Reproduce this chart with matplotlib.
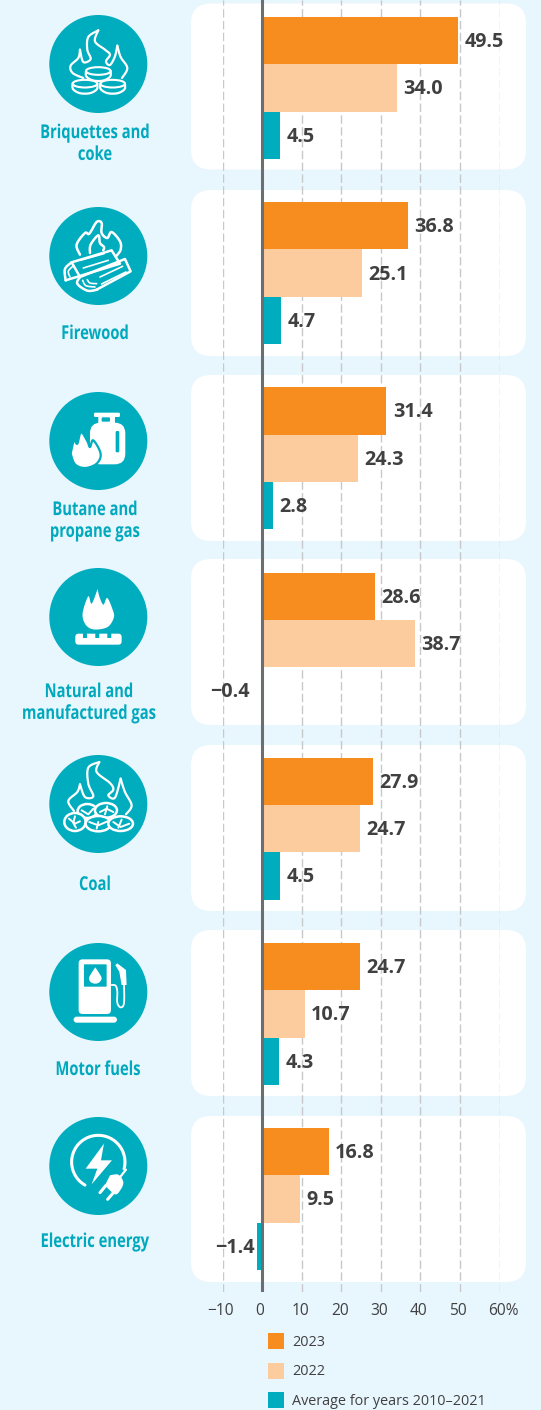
import numpy as np
import matplotlib
matplotlib.use("Agg")
import matplotlib.pyplot as plt
import matplotlib.patheffects as pe
from matplotlib.patches import Circle, Ellipse, FancyBboxPatch, Patch, Polygon
from matplotlib.transforms import Affine2D, ScaledTranslation

categories = ["Briquettes and\ncoke", "Firewood", "Butane and\npropane gas", "Natural and\nmanufactured gas",
              "Coal", "Motor fuels", "Electric energy"]
v2023 = [49.5, 36.8, 31.4, 28.6, 27.9, 24.7, 16.8]
v2022 = [34.0, 25.1, 24.3, 38.7, 24.7, 10.7, 9.5]
vavg = [4.5, 4.7, 2.8, -0.4, 4.5, 4.3, -1.4]
ticks = [-10, 0, 10, 20, 30, 40, 50, 60]
tick_labels = ["\u221210", "0", "10", "20", "30", "40", "50", "60%"]
series_names = ["2023", "2022", "Average for years 2010\u20132021"]

ORANGE = "#F78D1E"
PEACH = "#FCCB9E"
TEAL = "#00ADBF"
BG = "#E8F6FD"
DARK = "#404041"
W, H = 541, 1410
SANS = ["Open Sans", "DejaVu Sans"]

fig = plt.figure(figsize=(W / 100, H / 100), dpi=100, facecolor=BG)

# background layer works in pixels
bg = fig.add_axes([0, 0, 1, 1])
bg.set_xlim(0, W)
bg.set_ylim(H, 0)
bg.axis("off")

panel_tops = [3.5, 190, 375, 559, 745, 930, 1116]
icon_y = [64, 256, 441, 617, 804, 992, 1166]
label_x = [95, 95, 95, 89, 95, 98, 95]
label_y = [144, 334, 521, 703, 885, 1070, 1242]

for t in panel_tops:
    bg.add_patch(FancyBboxPatch((191 + 20, t + 20), 335 - 40, 166 - 40, boxstyle="round,pad=20,rounding_size=20",
                                fc="white", ec="none"))


class Condense(pe.AbstractPathEffect):
    # squeeze text sideways, there is no condensed bold font here
    def __init__(self, cx, k):
        super().__init__()
        self.cx = cx
        self.k = k

    def draw_path(self, renderer, gc, tpath, affine, rgbFace=None):
        squeeze = Affine2D().translate(-self.cx, 0).scale(self.k, 1).translate(self.cx, 0)
        renderer.draw_path(gc, tpath, affine + squeeze, rgbFace)


def smooth(pts, n=10):
    # catmull-rom through the points
    p = np.array(pts, dtype=float)
    p = np.vstack([p[0], p, p[-1]])
    out = []
    for i in range(1, len(p) - 2):
        for t in np.linspace(0, 1, n, endpoint=False):
            a = 2 * p[i] + (p[i + 1] - p[i - 1]) * t
            b = (2 * p[i - 1] - 5 * p[i] + 4 * p[i + 1] - p[i + 2]) * t ** 2
            c = (3 * p[i] - p[i - 1] - 3 * p[i + 1] + p[i + 2]) * t ** 3
            out.append(0.5 * (a + b + c))
    out.append(p[-2])
    return np.array(out)


class Icon:
    # coords come from the 3x zoom, cx/cy is the circle centre there
    def __init__(self, i, cx, cy):
        self.o = np.array([98.3, icon_y[i]])
        self.c = np.array([cx, cy])
        bg.add_patch(Circle(self.o, 49, fc=TEAL, ec="none"))

    def xy(self, pts):
        return (np.array(pts, dtype=float) - self.c) / 3 + self.o

    def line(self, pts, lw=1.6, curve=True, color="white"):
        q = self.xy(smooth(pts) if curve else pts)
        bg.plot(q[:, 0], q[:, 1], color=color, lw=lw, solid_capstyle="round", solid_joinstyle="round")

    def fill(self, pts, color="white", curve=False, ec="none", lw=0):
        q = self.xy(smooth(pts) if curve else pts)
        bg.add_patch(Polygon(q, closed=True, fc=color, ec=ec, lw=lw))

    def box(self, x0, y0, x1, y1, r=6, color="white"):
        a = self.xy([(x0, y0), (x1, y1)])
        w, h = a[1] - a[0]
        r = min(r / 3, w / 2, h / 2)
        bg.add_patch(FancyBboxPatch((a[0][0] + r, a[0][1] + r), w - 2 * r, h - 2 * r,
                                    boxstyle=f"round,pad={r},rounding_size={r}", fc=color, ec="none"))

    def ell(self, x, y, w, h, fc=TEAL, ec="white", lw=1.5):
        bg.add_patch(Ellipse(self.xy([(x, y)])[0], w / 3, h / 3, fc=fc, ec=ec, lw=lw))


def coin(ic, x, y):
    ic.fill([(x - 38, y), (x - 38, y + 20), (x - 18, y + 31), (x + 18, y + 31), (x + 38, y + 20), (x + 38, y)], color=TEAL)
    ic.line([(x - 37, y), (x - 36, y + 16), (x - 20, y + 27), (x, y + 30), (x + 20, y + 27), (x + 36, y + 16), (x + 37, y)])
    ic.ell(x, y, 74, 23)


# briquettes
ic = Icon(0, 295, 193)
ic.line([(295, 92), (265, 112), (262, 150), (272, 178), (250, 187), (240, 150)])
ic.line([(240, 150), (235, 175), (212, 198), (218, 220), (250, 235)])
ic.line([(295, 92), (285, 125), (315, 150), (330, 165), (318, 185), (330, 196), (345, 170), (352, 138)])
ic.line([(352, 138), (362, 172), (382, 205), (366, 235)])
coin(ic, 295, 214)
coin(ic, 255, 252)
coin(ic, 338, 252)

# firewood
ic = Icon(1, 295, 199)
ic.line([(240, 195), (230, 165), (255, 130), (268, 132), (290, 97), (305, 100), (305, 130), (322, 145), (335, 127),
         (360, 155), (362, 180), (350, 198)], lw=1.8)
ic.line([(270, 190), (272, 165), (295, 137), (300, 160), (312, 172), (310, 182)], lw=1.8)
# back log
ic.fill([(240, 262), (375, 208), (392, 245), (262, 305), (232, 285)], color=TEAL)
ic.line([(240, 262), (375, 208), (392, 245), (290, 300)], lw=1.8, curve=False)
ic.line([(240, 262), (232, 282), (262, 303), (292, 300)], lw=1.8)
ic.line([(248, 272), (258, 288), (285, 292)], lw=1.2)
ic.line([(262, 270), (270, 280), (290, 282)], lw=1.2)
ic.line([(300, 262), (368, 230)], lw=1.2, curve=False)
ic.line([(305, 283), (378, 247)], lw=1.2, curve=False)
# front log
ic.fill([(197, 272), (360, 222), (335, 182), (215, 218), (193, 243)], color=TEAL)
ic.line([(197, 272), (360, 222), (335, 182), (215, 218)], lw=1.8, curve=False)
ic.line([(215, 218), (195, 238), (197, 272)], lw=1.8)
ic.line([(215, 218), (238, 258)], lw=1.8, curve=False)
ic.line([(240, 212), (312, 192)], lw=1.2, curve=False)
ic.line([(250, 235), (325, 212)], lw=1.2, curve=False)
ic.line([(210, 262), (205, 245), (218, 230)], lw=1.2)

# butane
ic = Icon(2, 295, 752)
ic.box(282, 667, 360, 680, r=4)
ic.box(295, 675, 345, 705, r=2)
ic.box(270, 697, 376, 822, r=32)
ic.box(305, 681, 330, 694, r=3, color=TEAL)
ic.box(347, 722, 358, 786, r=4, color=TEAL)
ic.fill([(212, 790), (222, 750), (232, 760), (243, 725), (262, 752), (270, 770), (280, 750), (302, 790),
         (290, 820), (255, 833), (225, 822), (212, 790)], curve=True, ec=TEAL, lw=1.6)

# natural gas
ic = Icon(3, 295, 172)
ic.fill([(293, 88), (298, 110), (310, 135), (322, 115), (338, 150), (342, 172), (328, 198), (305, 208), (275, 208),
         (255, 192), (248, 160), (265, 110), (275, 132), (293, 88)], curve=True)
ic.box(226, 222, 365, 255, r=10)
for x in [255, 292, 328]:
    ic.box(x - 6, 218, x + 6, 235, r=0, color=TEAL)

# coal
ic = Icon(4, 295, 731)
ic.line([(298, 605), (265, 622), (265, 670), (280, 708), (255, 710), (240, 672)])
ic.line([(240, 672), (232, 695), (205, 722), (222, 752)])
ic.line([(298, 605), (290, 635), (330, 668), (340, 688), (325, 705), (345, 712), (362, 655)])
ic.line([(362, 655), (375, 695), (395, 735), (378, 762)])
for x, y, w, h in [(262, 752, 58, 42), (318, 750, 66, 44), (225, 785, 64, 54), (295, 790, 76, 46), (362, 790, 74, 44)]:
    ic.ell(x, y, w, h, lw=1.8)
for pts in [[(207, 775), (225, 790), (240, 783)], [(225, 768), (220, 788), (228, 802)], [(245, 750), (265, 762), (280, 745)],
            [(300, 755), (320, 745), (340, 755)], [(315, 762), (322, 738)], [(268, 785), (295, 795), (325, 782)],
            [(295, 785), (290, 805)], [(340, 785), (362, 800), (388, 790)], [(365, 778), (355, 802)]]:
    ic.line(pts, lw=1.4, curve=False)

# motor fuels
ic = Icon(5, 295, 216)
ic.box(236, 118, 333, 282, r=12)
ic.box(252, 133, 320, 200, r=2, color=TEAL)
ic.fill([(286, 142), (298, 160), (305, 175), (298, 187), (286, 191), (273, 187), (267, 175), (274, 160), (286, 142)],
        curve=True)
ic.box(221, 290, 351, 308, r=9)
ic.line([(335, 195), (347, 197), (352, 215), (352, 248), (362, 262), (372, 250), (372, 195), (368, 165)], lw=1.3)
ic.fill([(346, 135), (352, 130), (378, 150), (380, 195), (365, 195), (358, 155)])

# electric energy
ic = Icon(6, 295, 737)
a = np.radians(np.linspace(120, 375, 60))
ic.line(np.c_[295 + 80 * np.cos(a), 725 + 80 * np.sin(a)], lw=2.2, curve=False)
ic.fill([(312, 670), (257, 745), (292, 745), (275, 792), (336, 720), (303, 720)])
ic.line([(345, 790), (378, 748)], lw=1.6, curve=False)
ic.fill([(330, 765), (355, 763), (370, 785), (362, 808), (345, 822), (315, 795)], curve=True)
ic.line([(318, 795), (300, 817)], lw=2.2, curve=False)
ic.line([(342, 815), (323, 837)], lw=2.2, curve=False)

for name, x, y in zip(categories, label_x, label_y):
    bg.text(x, y, name, ha="center", va="center", color="#00A9BD", family=SANS, weight="bold", fontsize=13.8,
            linespacing=1.12, path_effects=[Condense(x, 0.77)])

# chart layer, y is the group index
ax = fig.add_axes([222.8 / W, 1 - 1292 / H, (499.5 - 222.8) / W, 1292 / H])
ax.patch.set_alpha(0)
ax.set_xlim(-10, 60)
ax.set_ylim(6.502, -0.475)
y = np.arange(len(categories))
bar_h = 0.2555
ax.barh(y - bar_h, v2023, bar_h, color=ORANGE, zorder=3)
ax.barh(y, v2022, bar_h, color=PEACH, zorder=3)
ax.barh(y + bar_h, vavg, bar_h, color=TEAL, zorder=3)
ax.axvline(0, color="#6D6E71", lw=2.2, zorder=4)

ax.set_xticks(ticks)
ax.set_xticklabels(tick_labels, family=SANS, fontsize=11.2, color=DARK)
ax.tick_params(axis="x", length=0, pad=8)
# tick labels sit a little off the gridlines in the original
for lab, dx in zip(ax.get_xticklabels(), [-2, -3, -1.5, -1.5, -2, -2, -2, 3.5]):
    lab.set_transform(lab.get_transform() + ScaledTranslation(dx / 100, 0, fig.dpi_scale_trans))
ax.set_yticks([])
for s in ax.spines.values():
    s.set_visible(False)
ax.grid(axis="x", color="#C7C8CA", lw=1, dashes=(6, 2.5), zorder=1)
ax.set_axisbelow(True)

for vals, dy in [(v2023, -bar_h), (v2022, 0), (vavg, bar_h)]:
    for i, v in enumerate(vals):
        if v >= 0:
            dx, ha = 4.5, "left"
        else:
            dx, ha = (-1.5 if v < -1 else -8), "right"
        ax.annotate(f"{v:.1f}".replace("-", "\u2212"), (v, y[i] + dy), xytext=(dx, -1), textcoords="offset points",
                    ha=ha, va="center", family=SANS, weight="bold", fontsize=14.2, color=DARK, zorder=5,
                    annotation_clip=False)

handles = [Patch(fc=c, ec="none") for c in [ORANGE, PEACH, TEAL]]
fs = 10.4
leg = ax.legend(handles, series_names, loc="upper left", bbox_to_anchor=(268 / W, 1 - 1333 / H),
                bbox_transform=fig.transFigure, frameon=False, borderpad=0, borderaxespad=0, prop={"family": SANS, "size": fs},
                handlelength=16 * 0.72 / fs, handleheight=1.327, handletextpad=8 * 0.72 / fs,
                labelspacing=12.7 * 0.72 / fs, labelcolor=DARK)

fig.savefig("out.png", dpi=100, facecolor=BG)
